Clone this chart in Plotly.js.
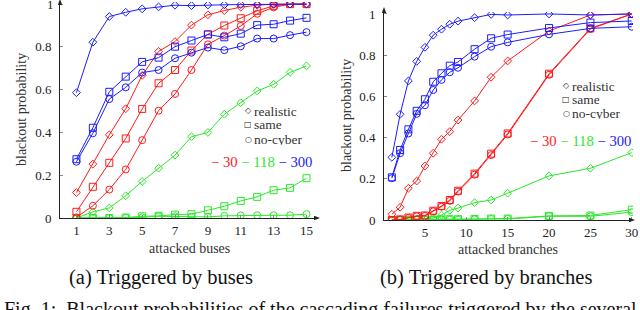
<!DOCTYPE html>
<html><head><meta charset="utf-8">
<script src="https://cdn.plot.ly/plotly-3.0.1.min.js"></script>
<style>body{margin:0;background:#fff}#c{width:640px;height:310px}</style>
</head><body><div id="c"></div>
<script>
// ---- data ----
const xBuses = [1,2,3,4,5,6,7,8,9,10,11,12,13,14,15];
const bus30Realistic = [0.119,0.252,0.389,0.511,0.667,0.779,0.825,0.902,0.95,0.97,0.986,0.995,1,1,1];
const bus30Same      = [0.029,0.146,0.258,0.372,0.51,0.63,0.692,0.783,0.859,0.9,0.934,0.969,0.992,1,1];
const bus30NoCyber   = [0.003,0.057,0.133,0.227,0.364,0.502,0.58,0.692,0.812,0.853,0.898,0.955,0.985,1,1];
const bus118Realistic= [0,0.029,0.047,0.104,0.171,0.233,0.294,0.38,0.40,0.485,0.539,0.594,0.625,0.681,0.711];
const bus118Same     = [0,0,0,0.002,0.008,0.01,0.016,0.018,0.036,0.055,0.08,0.099,0.13,0.141,0.186];
const bus118NoCyber  = [0,0,0,0.001,0.003,0.008,0.008,0.005,0.005,0.01,0.012,0.013,0.013,0.013,0.018];
const bus300Realistic= [0.586,0.822,0.942,0.962,0.978,0.987,0.995,0.993,0.996,0.997,0.998,0.999,0.999,1,1];
const bus300Same     = [0.275,0.422,0.59,0.661,0.73,0.75,0.801,0.83,0.858,0.845,0.862,0.902,0.906,0.923,0.936];
const bus300NoCyber  = [0.263,0.396,0.556,0.611,0.68,0.692,0.747,0.773,0.797,0.785,0.803,0.839,0.839,0.855,0.869];

const xBranches = [1,2,3,4,5,6,7,8,9,11,13,15,20,25,30];
const br30Realistic  = [0.028,0.062,0.154,0.189,0.262,0.324,0.392,0.429,0.485,0.578,0.693,0.772,0.917,0.995,1];
const br30Same       = [0,0.003,0.012,0.02,0.022,0.045,0.068,0.097,0.142,0.225,0.322,0.42,0.71,0.93,1];
const br30NoCyber    = [0,0.002,0.01,0.018,0.02,0.042,0.065,0.093,0.138,0.22,0.315,0.415,0.705,0.927,1];
const br118Realistic = [0,0.001,0.002,0.004,0.006,0.01,0.024,0.047,0.058,0.084,0.097,0.13,0.214,0.251,0.327];
const br118Same      = [0,0,0,0.001,0.002,0.002,0.003,0.004,0.004,0.005,0.007,0.007,0.02,0.022,0.05];
const br118NoCyber   = [0,0,0,0,0.001,0.001,0.002,0.002,0.002,0.003,0.005,0.005,0.018,0.018,0.038];
const br300Realistic = [0.304,0.513,0.675,0.77,0.838,0.897,0.926,0.95,0.965,0.982,0.998,0.995,1,0.995,1];
const br300Same      = [0.207,0.34,0.44,0.53,0.586,0.671,0.712,0.749,0.767,0.829,0.882,0.9,0.932,0.958,0.966];
const br300NoCyber   = [0.203,0.324,0.42,0.515,0.557,0.631,0.68,0.717,0.739,0.793,0.841,0.862,0.901,0.93,0.938];

const xTicksBuses = [1,3,5,7,9,11,13,15];
const xTicksBranches = [5,10,15,20,25,30];
const yTicks = [0,0.2,0.4,0.6,0.8,1];
const yTickLabels = ['0','0.2','0.4','0.6','0.8','1'];

// ---- styling ----
const RED='#ff1a1a', GREEN='#2ae82a', BLUE='#1c1cff';
const FONT='Liberation Serif';
const W=640,H=310;
const px=x=>x/W, py=y=>1-y/H;

function tr(x,y,color,sym,xa,ya){
  return {x:x,y:y,type:'scatter',mode:'lines+markers',xaxis:xa,yaxis:ya,showlegend:false,
    line:{color:color,width:1},marker:{symbol:sym,size:sym==='diamond-open'?6:7,color:color,line:{color:color,width:1}},hoverinfo:'skip'};
}
const data=[
  tr(xBuses,bus118Realistic,GREEN,'diamond-open','x','y'),
  tr(xBuses,bus118Same,GREEN,'square-open','x','y'),
  tr(xBuses,bus118NoCyber,GREEN,'circle-open','x','y'),
  tr(xBuses,bus30Realistic,RED,'diamond-open','x','y'),
  tr(xBuses,bus30Same,RED,'square-open','x','y'),
  tr(xBuses,bus30NoCyber,RED,'circle-open','x','y'),
  tr(xBuses,bus300Realistic,BLUE,'diamond-open','x','y'),
  tr(xBuses,bus300Same,BLUE,'square-open','x','y'),
  tr(xBuses,bus300NoCyber,BLUE,'circle-open','x','y'),
  tr(xBranches,br118Realistic,GREEN,'diamond-open','x2','y2'),
  tr(xBranches,br118Same,GREEN,'square-open','x2','y2'),
  tr(xBranches,br118NoCyber,GREEN,'circle-open','x2','y2'),
  tr(xBranches,br30Realistic,RED,'diamond-open','x2','y2'),
  tr(xBranches,br30Same,RED,'square-open','x2','y2'),
  tr(xBranches,br30NoCyber,RED,'circle-open','x2','y2'),
  tr(xBranches,br300Realistic,BLUE,'diamond-open','x2','y2'),
  tr(xBranches,br300Same,BLUE,'square-open','x2','y2'),
  tr(xBranches,br300NoCyber,BLUE,'circle-open','x2','y2')
];

const axBase={showgrid:false,zeroline:false,showline:true,linecolor:'#222',linewidth:1,
  ticks:'inside',ticklen:3,tickcolor:'#888',tickfont:{family:FONT,size:13,color:'#222'},fixedrange:true};
const leftTickText = yTickLabels.slice(0,-1).concat(['']);
const layout={
  width:W,height:H,margin:{l:0,r:0,t:0,b:0},paper_bgcolor:'#fff',plot_bgcolor:'rgba(0,0,0,0)',
  xaxis:Object.assign({},axBase,{domain:[px(60),px(318)],range:[0,15.7],tickvals:xTicksBuses,anchor:'y',ticklabelstandoff:0}),
  yaxis:Object.assign({},axBase,{domain:[py(218),py(2)],range:[0,1.01],tickvals:yTicks,ticktext:leftTickText,anchor:'x',ticklabelstandoff:5}),
  xaxis2:Object.assign({},axBase,{domain:[px(384),px(633)],range:[0.05,30.15],tickvals:xTicksBranches,anchor:'y2',ticklabelstandoff:0}),
  yaxis2:Object.assign({},axBase,{domain:[py(220),py(11.9)],range:[0,1.01],tickvals:yTicks,ticktext:yTickLabels,anchor:'x2',ticklabelstandoff:5}),
  shapes:[
    {type:'path',xref:'paper',yref:'paper',path:`M ${px(314)} ${py(215.8)} L ${px(320)} ${py(218)} L ${px(314)} ${py(220.2)} Z`,fillcolor:'#222',line:{width:0}},
    {type:'path',xref:'paper',yref:'paper',path:`M ${px(57.8)} ${py(5)} L ${px(60)} ${py(-1)} L ${px(62.2)} ${py(5)} Z`,fillcolor:'#222',line:{width:0}},
    {type:'path',xref:'paper',yref:'paper',path:`M ${px(629)} ${py(217.8)} L ${px(635)} ${py(220)} L ${px(629)} ${py(222.2)} Z`,fillcolor:'#222',line:{width:0}},
    {type:'path',xref:'paper',yref:'paper',path:`M ${px(381.8)} ${py(13)} L ${px(384)} ${py(7)} L ${px(386.2)} ${py(13)} Z`,fillcolor:'#222',line:{width:0}}
  ],
  annotations:[]
};
const A=layout.annotations;
function ann(text,x,y,opts){A.push(Object.assign({text:text,xref:'paper',yref:'paper',x:px(x),y:py(y),showarrow:false,
  font:{family:FONT,size:12,color:'#333'},xanchor:'center',yanchor:'middle'},opts||{}));}
// top tick label of the left axis, placed through the y scale
A.push({text:yTickLabels[yTickLabels.length-1],xref:'paper',yref:'y',x:px(55),y:yTicks[yTicks.length-1],showarrow:false,
  xanchor:'right',yanchor:'middle',borderpad:0,font:{family:FONT,size:13,color:'#222'}});
// axis titles
ann('attacked buses',189,248,{font:{family:FONT,size:14,color:'#333'}});
ann('attacked branches',508,249,{font:{family:FONT,size:14,color:'#333'}});
ann('blackout probability',21,110,{textangle:-90,font:{family:FONT,size:14,color:'#333'}});
ann('blackout probability',346,116,{textangle:-90,font:{family:FONT,size:14,color:'#333'}});
// captions
ann('(a) Triggered by buses',161,277,{font:{family:FONT,size:20.5,color:'#111'}});
ann('(b) Triggered by branches',486,277,{font:{family:FONT,size:20.5,color:'#111'}});
ann('Fig. 1:&nbsp;&nbsp;Blackout probabilities of the cascading failures triggered by the several',2,296,{xanchor:'left',yanchor:'top',font:{family:FONT,size:20,color:'#111'}});
// legends
function legend(mx,tx,ys,cx,cy){
  const syms=['◇','□','○'], labs=['realistic','same','no-cyber'];
  for(let i=0;i<3;i++){
    ann(syms[i],mx,ys[i],{font:{family:'DejaVu Sans',size:8,color:'#222'},height:11,borderpad:0});
    ann(labs[i],tx,ys[i],{xanchor:'left',font:{family:FONT,size:13.5,color:'#333'},height:12,borderpad:0});
  }
  ann(`<span style="color:${RED}">− 30</span> <span style="color:${GREEN}">− 118</span> <span style="color:${BLUE}">− 300</span>`,cx,cy,{xanchor:'left',font:{family:FONT,size:14.7}});
}
legend(248,253,[110.5,124,139],209,161.5);
legend(566,571,[85.5,99,113.3],528,140.5);

Plotly.newPlot('c',data,layout,{staticPlot:true});
</script></body></html>
